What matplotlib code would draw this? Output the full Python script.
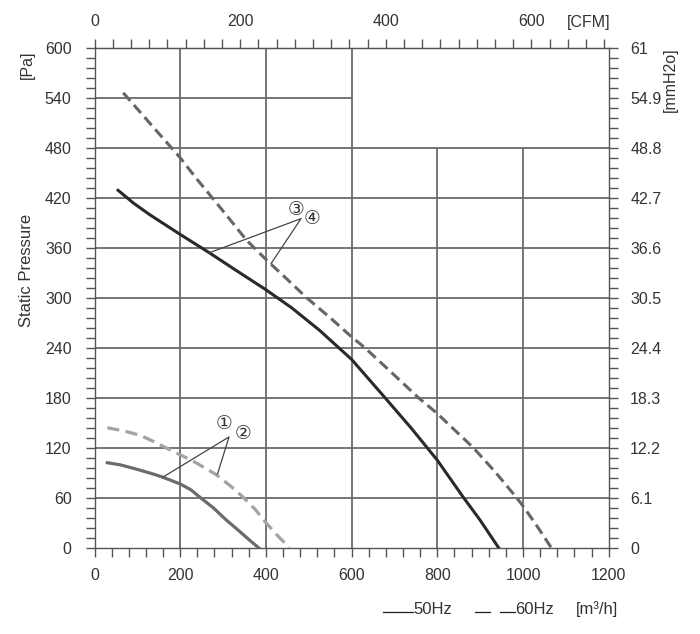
import numpy as np
import matplotlib.pyplot as plt
from matplotlib.ticker import MultipleLocator
from matplotlib.lines import Line2D

plt.rcParams['font.family'] = ['Liberation Sans', 'DejaVu Sans']

# airflow [m3/h] and static pressure [Pa]
# small fan: 1 = 50Hz, 2 = 60Hz
q1 = [30, 60, 100, 140, 160, 200, 225, 245, 277, 307, 340, 362, 383]
p1 = [102, 99.5, 94, 88, 84.5, 76.5, 69.5, 61, 48, 33.5, 19, 9, 0]
q2 = [30, 70, 106, 140, 178, 230, 283, 320, 346, 375, 400, 430, 455]
p2 = [144, 140, 135, 127, 117, 104, 88, 73, 61, 46, 30, 13, 0]
# big fan: 3 = 50Hz, 4 = 60Hz
q3 = [55, 90, 128, 200, 268, 330, 399, 460, 525, 600, 678, 740, 800, 860, 900, 943]
p3 = [429, 414, 400, 376, 354, 333, 310, 288, 261, 226, 180, 143, 105, 61, 33, 0]
q4 = [67, 130, 200, 238, 297, 355, 400, 450, 495, 550, 600, 631, 700, 756,
      800, 884, 935, 985, 1000, 1030, 1066]
p4 = [546, 509, 468, 443, 406, 369, 346, 322, 300, 276, 253, 240, 207, 180,
      161, 120, 91, 60, 50, 28, 0]

x_ticks = [0, 200, 400, 600, 800, 1000, 1200]
y_ticks = [0, 60, 120, 180, 240, 300, 360, 420, 480, 540, 600]
mmh2o_labels = ['0', '6.1', '12.2', '18.3', '24.4', '30.5', '36.6', '42.7',
                '48.8', '54.9', '61']
cfm_ticks = [0, 200, 400, 600]

txt = '#333333'
axc = '#555555'
fs = 11.5

fig = plt.figure(figsize=(7, 6.34), dpi=100)
ax = fig.add_axes([0.135, 0.1361, 0.7346, 0.7885])
ax.set_xlim(0, 1200)
ax.set_ylim(0, 600)

# grid (top right corner left empty as in the datasheet)
gc = '#6a6a6a'
ax.hlines(y_ticks[1:9], 0, 1200, color=gc, lw=1.3, zorder=1)
ax.hlines(540, 0, 600, color=gc, lw=1.3, zorder=1)
ax.vlines([200, 400, 600], 0, 600, color=gc, lw=1.3, zorder=1)
ax.vlines([800, 1000], 0, 480, color=gc, lw=1.3, zorder=1)

ax.plot(q1, p1, color='#6b6b6b', lw=2.3, zorder=3)
ax.plot(q2, p2, color='#a3a3a3', lw=2.3, dashes=(3.8, 2.0), zorder=3)
ax.plot(q3, p3, color='#2a2a2a', lw=2.2, zorder=3)
ax.plot(q4, p4, color='#666666', lw=2.2, dashes=(3.5, 1.8), zorder=3)

# curve labels
lc = '#444444'
ax.plot([159, 314, 287], [84.5, 133, 88.4], color=lc, lw=0.9, zorder=4)
ax.plot([268, 482, 412], [354, 395, 341], color=lc, lw=0.9, zorder=4)
for s, x, y in [('①', 303, 149), ('②', 346, 137), ('③', 470, 406), ('④', 508, 395)]:
    ax.text(x, y, s, fontsize=13.5, ha='center', va='center', color=txt,
            family=['DejaVu Sans'], zorder=5,
            bbox=dict(boxstyle='circle,pad=0', fc='white', ec='none'))

for sp in ax.spines.values():
    sp.set_color(axc)
    sp.set_linewidth(1.0)

ax.set_xticks(x_ticks)
ax.set_yticks(y_ticks)
ax.xaxis.set_minor_locator(MultipleLocator(40))
ax.yaxis.set_minor_locator(MultipleLocator(12))
ax.tick_params(which='both', direction='out', length=6.5, width=1, color=axc,
               labelcolor=txt, labelsize=fs)
ax.tick_params(axis='x', pad=8)
ax.tick_params(axis='y', pad=10)

top = ax.secondary_xaxis('top', functions=(lambda q: q / 1.699, lambda c: c * 1.699))
top.set_xticks(cfm_ticks)
top.xaxis.set_minor_locator(MultipleLocator(25))
top.tick_params(which='both', direction='out', length=6.5, width=1, color=axc,
                labelcolor=txt, labelsize=fs, pad=7)
top.spines['top'].set_color(axc)

right = ax.twinx()
right.set_ylim(0, 600)
right.set_yticks(y_ticks)
right.set_yticklabels(mmh2o_labels)
right.yaxis.set_minor_locator(MultipleLocator(12))
right.tick_params(which='both', direction='out', length=6.5, width=1, color=axc,
                  labelcolor=txt, labelsize=fs, pad=9)
for sp in right.spines.values():
    sp.set_visible(False)

# axis captions
fig.text(27 / 700, 1 - 65 / 634, '[Pa]', rotation=90, ha='center', va='center',
         fontsize=fs, color=txt)
fig.text(27 / 700, 1 - 270 / 634, 'Static Pressure', rotation=90, ha='center',
         va='center', fontsize=12, color=txt)
fig.text(670 / 700, 1 - 80 / 634, '[mmH2o]', rotation=90, ha='center',
         va='center', fontsize=fs, color=txt)
fig.text(611 / 700, 1 - 22 / 634, '[CFM]', ha='right', va='center',
         fontsize=fs, color=txt)

# legend at the bottom
ly = 1 - 612 / 634
fig.add_artist(Line2D([383 / 700, 413 / 700], [ly, ly], color='#222222', lw=0.9))
fig.add_artist(Line2D([475 / 700, 490 / 700], [ly, ly], color='#222222', lw=0.9))
fig.add_artist(Line2D([500 / 700, 515 / 700], [ly, ly], color='#222222', lw=0.9))
fig.text(413 / 700, 1 - 609 / 634, '50Hz', ha='left', va='center', fontsize=12, color=txt)
fig.text(515 / 700, 1 - 609 / 634, '60Hz', ha='left', va='center', fontsize=12, color=txt)
fig.text(576 / 700, 1 - 609 / 634, '[m³/h]', ha='left', va='center', fontsize=12, color=txt)

plt.savefig('out.png', dpi=100)
